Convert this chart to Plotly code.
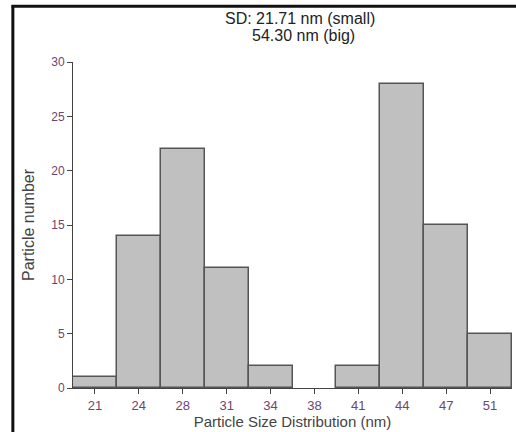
import plotly.graph_objects as go

# Histogram of particle sizes
size_labels = ["21", "24", "28", "31", "34", "38", "41", "44", "47", "51"]
counts = [1, 14, 22, 11, 2, 0, 2, 28, 15, 5]
y_ticks = [0, 5, 10, 15, 20, 25, 30]

positions = list(range(len(size_labels)))
# empty bins get no outline so they don't thicken the baseline
outline_widths = [1.5 if c > 0 else 0 for c in counts]

fig = go.Figure(
    go.Bar(
        x=positions,
        y=counts,
        width=1.0,
        marker=dict(color="#c0c0c0", line=dict(color="#555555", width=outline_widths)),
        hoverinfo="x+y",
    )
)

tick_color = "#6e4470"
font_family = "Liberation Sans, Arial, sans-serif"

fig.update_layout(
    width=516,
    height=432,
    margin=dict(l=73, r=4, t=62, b=44),
    paper_bgcolor="white",
    plot_bgcolor="white",
    showlegend=False,
    bargap=0,
    font=dict(family=font_family, color="#444444"),
    xaxis=dict(
        range=[-0.5, len(size_labels) - 0.5],
        tickmode="array",
        tickvals=positions,
        ticktext=size_labels,
        ticks="outside",
        ticklen=5,
        tickcolor="#444444",
        tickfont=dict(size=13, color=tick_color),
        showgrid=False,
        zeroline=False,
        showline=True,
        linecolor="#444444",
        linewidth=1,
        title=dict(text="Particle Size Distribution (nm)", font=dict(size=15, color="#444444"), standoff=3),
    ),
    yaxis=dict(
        range=[0, 30],
        tickmode="array",
        tickvals=y_ticks,
        ticks="outside",
        ticklen=5,
        tickcolor="#444444",
        tickfont=dict(size=12, color=tick_color),
        showgrid=False,
        zeroline=False,
        showline=True,
        linecolor="#444444",
        linewidth=1,
        title=dict(text="Particle number", font=dict(size=16, color="#444444"), standoff=12),
    ),
    annotations=[
        dict(text="SD: 21.71 nm (small)", xref="paper", yref="paper",
             x=0.516, y=1.132, showarrow=False, xanchor="center", yanchor="middle",
             font=dict(size=16, color="#222222")),
        dict(text="54.30 nm (big)", xref="paper", yref="paper",
             x=0.526, y=1.082, showarrow=False, xanchor="center", yanchor="middle",
             font=dict(size=16, color="#222222")),
    ],
    shapes=[
        # outer frame: left edge and top edge
        dict(type="line", xref="paper", yref="paper", x0=-0.137, x1=-0.137, y0=-0.2, y1=1.174,
             line=dict(color="#111111", width=3)),
        dict(type="line", xref="paper", yref="paper", x0=-0.14, x1=1.01, y0=1.171, y1=1.171,
             line=dict(color="#111111", width=3)),
    ],
)

fig.write_html("out.html")
